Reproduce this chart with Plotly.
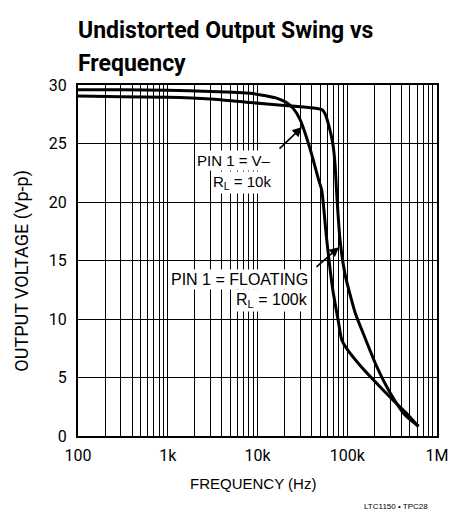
import plotly.graph_objects as go

# PIN 1 = V-, RL = 10k
freq_a = [100, 300, 1000, 3000, 8300, 10000, 16000, 21000, 25000, 30000, 38000,
          48000, 52000, 59000, 69000, 80000, 87000, 100000, 140000, 195000,
          320000, 450000, 620000]
volt_a = [29.6, 29.6, 29.55, 29.45, 29.3, 29.2, 28.9, 28.5, 28.0, 27.0, 24.7,
          21.9, 21.0, 16.8, 12.5, 9.7, 8.2, 7.4, 6.0, 4.8,
          3.1, 2.0, 0.8]

# PIN 1 = FLOATING, RL = 100k
freq_b = [100, 300, 1000, 3000, 8300, 20000, 35000, 46000, 52000, 56000, 62000,
          69000, 73000, 77000, 83000, 94000, 110000, 123000, 150000, 214000,
          300000, 440000, 620000]
volt_b = [29.05, 29.0, 28.95, 28.8, 28.5, 28.25, 28.1, 28.0, 27.9, 27.6, 26.6,
          25.0, 23.3, 20.2, 16.8, 13.9, 11.8, 10.5, 8.8, 5.9,
          3.7, 1.8, 0.85]

x_tickvals = [100, 1000, 10000, 100000, 1000000]
x_ticktext = ["100", "1k", "10k", "100k", "1M"]
x_minor = [k * 10 ** d for d in range(2, 6) for k in range(2, 10)]
y_tickvals = [0, 5, 10, 15, 20, 25, 30]

FONT = "Liberation Sans, Arial, sans-serif"
TITLE_FONT = "Roboto, Liberation Sans, sans-serif"

fig = go.Figure()
for f, v in ((freq_a, volt_a), (freq_b, volt_b)):
    fig.add_trace(go.Scatter(x=f, y=v, mode="lines",
                             line=dict(color="black", width=3, shape="spline", smoothing=0.6),
                             showlegend=False, hoverinfo="skip"))

fig.update_xaxes(
    type="log", range=[2, 6],
    tickvals=x_tickvals, ticktext=x_ticktext,
    showgrid=True, gridcolor="black", gridwidth=1.2,
    minor=dict(tickvals=x_minor, showgrid=True, gridcolor="black", gridwidth=1.2, ticks=""),
    ticks="", ticklabelstandoff=4,
    showline=True, linecolor="black", linewidth=2, mirror=True,
    tickfont=dict(family=TITLE_FONT, size=16, color="black"),
    zeroline=False,
)
fig.update_yaxes(
    range=[0, 30], tickvals=y_tickvals,
    showgrid=True, gridcolor="black", gridwidth=1.2,
    ticks="", ticklabelstandoff=6,
    showline=True, linecolor="black", linewidth=2, mirror=True,
    tickfont=dict(family=TITLE_FONT, size=16, color="black"),
    zeroline=False,
)

ann_font = dict(family=FONT, size=15, color="black")
title_font = dict(family=TITLE_FONT, size=23, color="black")
annotations = [
    # title, two lines
    dict(text="<b>Undistorted Output Swing vs</b>", xref="paper", yref="paper",
         x=-0.005, y=1.154, xanchor="left", yanchor="middle", showarrow=False, font=title_font),
    dict(text="<b>Frequency</b>", xref="paper", yref="paper",
         x=-0.005, y=1.060, xanchor="left", yanchor="middle", showarrow=False, font=title_font),
    # curve labels
    dict(text="PIN 1 = V\u2013", xref="paper", yref="paper", x=0.543, y=0.785,
         xanchor="right", yanchor="middle", showarrow=False, bgcolor="white", font=ann_font),
    dict(text="R<sub>L</sub> = 10k", xref="paper", yref="paper", x=0.543, y=0.722,
         xanchor="right", yanchor="middle", showarrow=False, bgcolor="white", font=ann_font),
    dict(text="PIN 1 = FLOATING", xref="paper", yref="paper", x=0.647, y=0.447,
         xanchor="right", yanchor="middle", showarrow=False, bgcolor="white",
         font=dict(family=FONT, size=16, color="black")),
    dict(text="R<sub>L</sub> = 100k", xref="paper", yref="paper", x=0.647, y=0.387,
         xanchor="right", yanchor="middle", showarrow=False, bgcolor="white",
         font=dict(family=FONT, size=16, color="black")),
    # arrows
    dict(text="", xref="paper", yref="paper", x=0.624, y=0.880, ax=-24, ay=23,
         showarrow=True, arrowhead=2, arrowsize=1.2, arrowwidth=1.6, arrowcolor="black"),
    dict(text="", xref="paper", yref="paper", x=0.727, y=0.538, ax=-24, ay=21,
         showarrow=True, arrowhead=2, arrowsize=1.2, arrowwidth=1.6, arrowcolor="black"),
    # axis titles
    dict(text="FREQUENCY (Hz)", xref="paper", yref="paper", x=0.487, y=-0.134,
         xanchor="center", yanchor="middle", showarrow=False, font=ann_font),
    dict(text="OUTPUT VOLTAGE (Vp-p)", xref="paper", yref="paper", x=-0.157, y=0.47,
         xanchor="center", yanchor="middle", textangle=-90, showarrow=False,
         font=dict(family=TITLE_FONT, size=18, color="black")),
    dict(text="LTC1150 \u2022 TPC28", xref="paper", yref="paper", x=0.98, y=-0.202,
         xanchor="right", yanchor="middle", showarrow=False,
         font=dict(family=FONT, size=8, color="black")),
]

# page body has an 8px margin, so the figure is 8px smaller than the window
fig.update_layout(
    width=452, height=511,
    margin=dict(l=70, r=23, t=77, b=83),
    paper_bgcolor="white", plot_bgcolor="white",
    annotations=annotations,
)

fig.write_html("out.html")
